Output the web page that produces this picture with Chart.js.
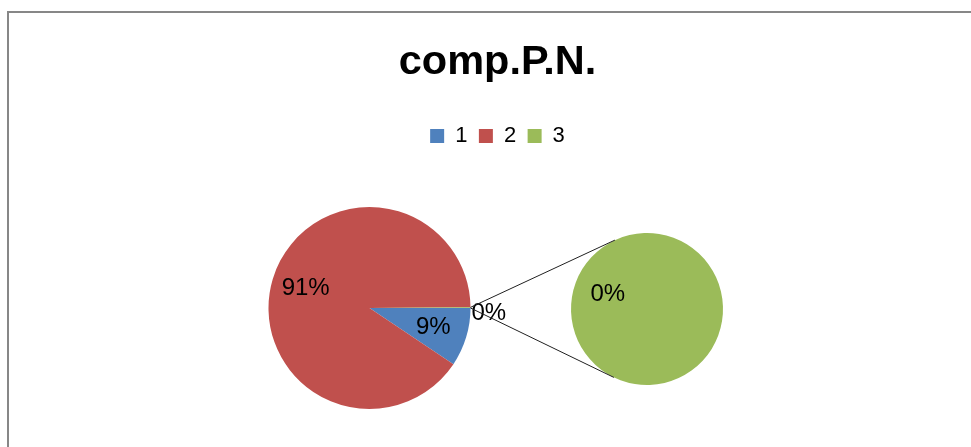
<!DOCTYPE html>
<html>
<head>
<meta charset="utf-8">
<script src="https://cdn.jsdelivr.net/npm/chart.js@4.4.1/dist/chart.umd.min.js"></script>
<style>
  html, body { margin: 0; padding: 0; width: 971px; height: 447px; overflow: hidden; background: #ffffff; }
  #frame { position: absolute; left: 7px; top: 11px; width: 1000px; height: 500px;
           border-left: 2px solid #878787; border-top: 2px solid #878787; }
  canvas { position: absolute; left: 0; top: 0; }
</style>
</head>
<body>
<div id="frame"></div>
<canvas id="mainPie" width="971" height="447"></canvas>
<canvas id="secondPie" width="971" height="447"></canvas>
<script>
// ---- data ----
const chartTitle = 'comp.P.N.';
const categories = ['1', '2', '3'];
const values = [9.4, 90.6, 0.1];
const colors = ['#4F81BD', '#C0504D', '#9BBB59'];
const mainCount = 2; // first categories in the main pie; the rest form "Other" and the secondary pie

const total = values.reduce((a, b) => a + b, 0);
const secondValues = values.slice(mainCount);
const mainValues = values.slice(0, mainCount).concat([secondValues.reduce((a, b) => a + b, 0)]);
const mainColors = colors.slice(0, mainCount).concat([colors[mainCount]]);
const secondColors = colors.slice(mainCount);

const FONT = "'Liberation Sans', Arial, sans-serif";

// place the pie in a given square inside the canvas
const placeArea = {
  id: 'placeArea',
  afterLayout(chart, args, opts) {
    if (!opts || !opts.box) return;
    const [l, t, r, b] = opts.box;
    chart.chartArea = { left: l, top: t, right: r, bottom: b, width: r - l, height: b - t };
  }
};

// percentage data labels
const pctLabels = {
  id: 'pctLabels',
  afterDatasetsDraw(chart, args, opts) {
    const meta = chart.getDatasetMeta(0);
    const data = chart.data.datasets[0].data;
    const ctx = chart.ctx;
    ctx.save();
    ctx.font = '24px ' + FONT;
    ctx.fillStyle = '#000000';
    ctx.textBaseline = 'middle';
    meta.data.forEach((arc, i) => {
      const p = arc.getProps(['x', 'y', 'startAngle', 'endAngle', 'outerRadius']);
      const mid = (p.startAngle + p.endAngle) / 2;
      const txt = Math.round(data[i] / total * 100) + '%';
      let x, y;
      if (opts.outside && opts.outside.indexOf(i) >= 0) {
        x = p.x + Math.cos(mid) * (p.outerRadius + opts.outGap);
        y = p.y + Math.sin(mid) * (p.outerRadius + opts.outGap) + opts.outDy;
        ctx.textAlign = 'left';
      } else {
        x = p.x + Math.cos(mid) * p.outerRadius * opts.ratio;
        y = p.y + Math.sin(mid) * p.outerRadius * opts.ratio;
        ctx.textAlign = 'center';
      }
      ctx.fillText(txt, x, y);
    });
    ctx.restore();
  }
};

const mainChart = new Chart(document.getElementById('mainPie'), {
  type: 'pie',
  data: {
    labels: categories,
    datasets: [{ data: mainValues, backgroundColor: mainColors, borderWidth: 0 }]
  },
  options: {
    responsive: false,
    animation: false,
    rotation: 90,
    layout: { padding: { left: 24, right: 0, top: 0, bottom: 0 } },
    events: [],
    plugins: {
      title: {
        display: true, text: chartTitle, color: '#000000',
        font: { family: FONT, size: 41.5, weight: 'bold' },
        padding: { top: 37.4, bottom: 26.2 }
      },
      legend: {
        display: true, position: 'top',
        labels: { boxWidth: 14, boxHeight: 14, padding: 11.5, color: '#000000',
                  font: { family: FONT, size: 22 } }
      },
      tooltip: { enabled: false },
      placeArea: { box: [268.5, 207, 470.5, 409] },
      pctLabels: { ratio: 0.66, outside: [mainCount], outGap: 1, outDy: 6 }
    }
  },
  plugins: [placeArea, pctLabels]
});

// connector lines between the "Other" slice and the secondary pie
const connectors = {
  id: 'connectors',
  afterDatasetsDraw(chart) {
    const other = mainChart.getDatasetMeta(0).data[mainCount];
    const o = other.getProps(['x', 'y', 'startAngle', 'endAngle', 'outerRadius']);
    const c = chart.getDatasetMeta(0).data[0].getProps(['x', 'y', 'outerRadius']);
    const ends = [o.startAngle, o.endAngle].map(a => ({
      x: o.x + Math.cos(a) * o.outerRadius, y: o.y + Math.sin(a) * o.outerRadius
    }));
    const tangent = (P, upper) => {
      const d = Math.hypot(P.x - c.x, P.y - c.y);
      const phi = Math.atan2(P.y - c.y, P.x - c.x);
      const al = Math.acos(c.outerRadius / d);
      const t1 = { x: c.x + Math.cos(phi + al) * c.outerRadius, y: c.y + Math.sin(phi + al) * c.outerRadius };
      const t2 = { x: c.x + Math.cos(phi - al) * c.outerRadius, y: c.y + Math.sin(phi - al) * c.outerRadius };
      return upper ? (t1.y < t2.y ? t1 : t2) : (t1.y < t2.y ? t2 : t1);
    };
    const top = ends[0].y <= ends[1].y ? ends[0] : ends[1];
    const bot = ends[0].y <= ends[1].y ? ends[1] : ends[0];
    const ctx = chart.ctx;
    ctx.save();
    ctx.strokeStyle = '#202020';
    ctx.lineWidth = 1;
    ctx.beginPath();
    const tt = tangent(top, true), tb = tangent(bot, false);
    ctx.moveTo(top.x, top.y); ctx.lineTo(tt.x, tt.y);
    ctx.moveTo(bot.x, bot.y); ctx.lineTo(tb.x, tb.y);
    ctx.stroke();
    ctx.restore();
  }
};

const secondChart = new Chart(document.getElementById('secondPie'), {
  type: 'pie',
  data: {
    labels: categories.slice(mainCount),
    datasets: [{ data: secondValues, backgroundColor: secondColors, borderWidth: 0 }]
  },
  options: {
    responsive: false,
    animation: false,
    rotation: 110.4,
    events: [],
    plugins: {
      title: { display: false },
      legend: { display: false },
      tooltip: { enabled: false },
      placeArea: { box: [571, 233, 723, 385] },
      pctLabels: { ratio: 0.55 }
    }
  },
  plugins: [placeArea, pctLabels, connectors]
});
</script>
</body>
</html>
